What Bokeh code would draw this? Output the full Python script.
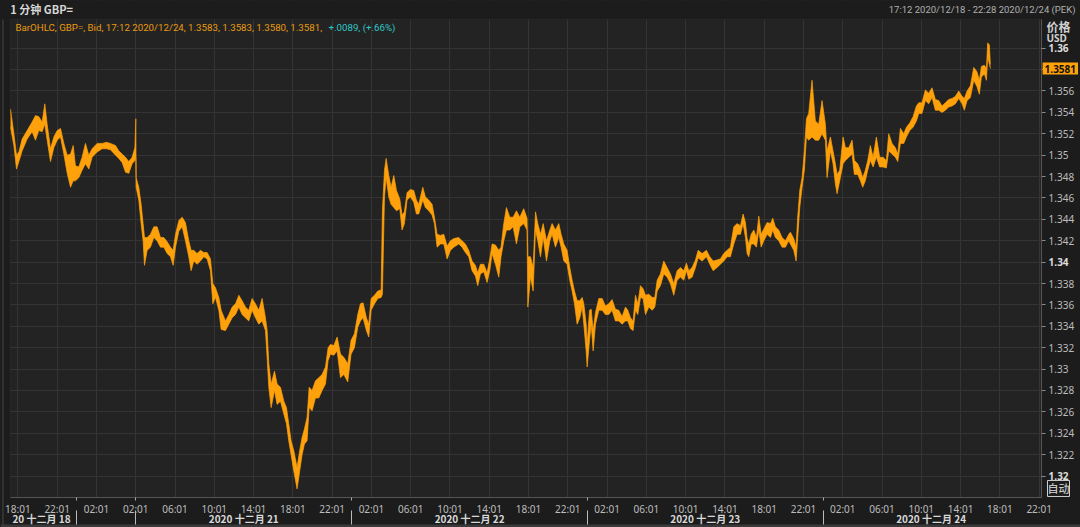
from bokeh.plotting import figure
from bokeh.models import (ColumnDataSource, Range1d, FixedTicker, LinearAxis, Label, BoxAnnotation,
                          GlobalInlineStyleSheet)
from bokeh.embed import file_html
from bokeh.resources import INLINE

# ---- data: trading-hour index (0 = 18:01 Dec 18, weekend compressed), bar low / high ----
hours = [-0.75, -0.41, -0.14, 0.10, 0.43, 0.94, 1.45, 1.79, 2.13, 2.47, 2.74, 2.98, 3.32, 3.66, 4.00, 4.34,
         4.68, 5.02, 5.36, 5.63, 5.86, 6.20, 6.54, 6.88, 7.22, 7.56, 8.07, 8.58, 9.02, 9.43, 9.94, 10.28,
         10.62, 10.96, 11.29, 11.63, 11.91, 12.01, 12.04, 12.31, 12.55, 12.75, 12.89, 13.16, 13.50, 13.84,
         14.18, 14.52, 14.86, 15.20, 15.54, 15.81, 16.05, 16.39, 16.73, 17.06, 17.40, 17.64, 17.91, 18.25,
         18.59, 18.93, 19.27, 19.61, 19.85, 20.12, 20.46, 20.70, 21.14, 21.48, 21.82, 22.16, 22.50, 22.83,
         23.17, 23.51, 23.85, 24.19, 24.53, 24.87, 25.21, 25.38,
         25.55, 25.79, 26.13, 26.40, 26.74, 27.08, 27.35, 27.58, 27.82, 28.09, 28.43, 28.70, 28.94, 29.18,
         29.45, 29.66, 29.96, 30.30, 30.64, 30.98, 31.32, 31.59, 31.83, 32.17, 32.51, 32.85, 33.19, 33.59,
         33.93, 34.27, 34.61, 34.88, 35.15, 35.49, 35.73, 35.97, 36.31, 36.65, 36.99, 37.12, 37.33, 37.50,
         37.77, 38.00, 38.28, 38.55, 38.89, 39.12, 39.36, 39.63, 39.97, 40.31, 40.58, 40.82, 41.23, 41.50,
         41.84, 42.18, 42.42, 42.69, 43.03, 43.37, 43.71, 44.05, 44.39, 44.89, 45.23, 45.57, 45.91, 46.25,
         46.59, 46.83, 47.10, 47.44, 47.78, 48.05, 48.29, 48.63, 48.97, 49.20, 49.48, 49.75, 50.09, 50.43,
         50.77, 51.11, 51.51, 51.85,
         51.93, 52.20, 52.47, 52.71, 52.94, 53.22, 53.49, 53.83, 54.17, 54.40, 54.74, 55.08, 55.32, 55.59,
         55.93, 56.20, 56.44, 56.68, 56.95, 57.22, 57.46, 57.63, 57.87, 57.97, 58.21, 58.38, 58.58, 58.82,
         59.16, 59.50, 59.83, 60.17, 60.51, 60.85, 61.19, 61.53, 61.87, 62.11, 62.38, 62.65, 62.89, 63.13,
         63.40, 63.67, 63.91, 64.25, 64.59, 64.86, 65.10, 65.43, 65.77, 66.11, 66.45, 66.79, 67.13, 67.47,
         67.81, 68.08, 68.32, 68.66, 69.00, 69.27, 69.68, 70.12, 70.46, 70.80, 71.20, 71.54, 71.88, 72.22,
         72.56, 72.90, 73.24, 73.58, 73.85, 74.09, 74.26, 74.43, 74.67, 74.94, 75.21, 75.45, 75.69, 75.96,
         76.30, 76.64, 76.87, 77.14, 77.48, 77.82, 78.16, 78.50,
         78.67, 79.01, 79.25, 79.41, 79.62, 79.86, 80.09, 80.30, 80.53, 80.87, 81.21, 81.55, 81.89, 82.23,
         82.40, 82.74, 83.01, 83.25, 83.42, 83.69, 84.03, 84.27, 84.61, 84.95, 85.18, 85.52, 85.80, 86.03,
         86.30, 86.54, 86.81, 87.09, 87.42, 87.76, 88.10, 88.44, 88.68, 89.02, 89.36, 89.60, 89.87, 90.21,
         90.48, 90.82, 91.16, 91.50, 91.74, 92.07, 92.41, 92.75, 93.09, 93.43, 93.77, 94.11, 94.45, 94.79,
         95.13, 95.47, 95.81, 96.15, 96.38, 96.66, 97.00, 97.34, 97.67, 97.91, 98.12, 98.42, 98.63, 98.76,
         98.93, 99.03]

low = [1.3526, 1.3509, 1.3487, 1.3494, 1.3504, 1.3515, 1.3522, 1.3514, 1.3523, 1.3522, 1.3529, 1.3514, 1.3494, 1.3507, 1.3514, 1.3517,
       1.3501, 1.3483, 1.3470, 1.3476, 1.3476, 1.3479, 1.3486, 1.3492, 1.3487, 1.3498, 1.3503, 1.3506, 1.3506, 1.3505, 1.3500, 1.3497,
       1.3493, 1.3484, 1.3483, 1.3492, 1.3495, 1.3498, 1.3470, 1.3458, 1.3436, 1.3420, 1.3397, 1.3411, 1.3414, 1.3423,
       1.3420, 1.3414, 1.3414, 1.3408, 1.3405, 1.3397, 1.3414, 1.3429, 1.3433, 1.3420, 1.3405, 1.3392, 1.3401, 1.3398,
       1.3401, 1.3405, 1.3403, 1.3392, 1.3361, 1.3367, 1.3355, 1.3337, 1.3336, 1.3342, 1.3348, 1.3351, 1.3358, 1.3351,
       1.3348, 1.3345, 1.3355, 1.3348, 1.3342, 1.3345, 1.3336, 1.3311,
       1.3283, 1.3264, 1.3280, 1.3267, 1.3270, 1.3258, 1.3249, 1.3233, 1.3220, 1.3205, 1.3188, 1.3205, 1.3220, 1.3230,
       1.3233, 1.3264, 1.3261, 1.3273, 1.3273, 1.3280, 1.3286, 1.3308, 1.3314, 1.3313, 1.3317, 1.3292, 1.3295, 1.3288,
       1.3314, 1.3320, 1.3339, 1.3345, 1.3348, 1.3336, 1.3330, 1.3355, 1.3361, 1.3366, 1.3367, 1.3370, 1.3461, 1.3479,
       1.3461, 1.3454, 1.3451, 1.3448, 1.3450, 1.3430, 1.3436, 1.3458, 1.3461, 1.3456, 1.3445, 1.3445, 1.3458, 1.3451,
       1.3448, 1.3444, 1.3436, 1.3414, 1.3417, 1.3417, 1.3403, 1.3411, 1.3414, 1.3417, 1.3414, 1.3409, 1.3405, 1.3392,
       1.3387, 1.3378, 1.3389, 1.3391, 1.3381, 1.3392, 1.3408, 1.3398, 1.3386, 1.3405, 1.3420, 1.3430, 1.3430, 1.3433,
       1.3417, 1.3433, 1.3436, 1.3430,
       1.3358, 1.3386, 1.3373, 1.3430, 1.3420, 1.3405, 1.3423, 1.3401, 1.3420, 1.3426, 1.3414, 1.3423, 1.3414, 1.3401,
       1.3398, 1.3383, 1.3373, 1.3361, 1.3342, 1.3348, 1.3358, 1.3342, 1.3317, 1.3302, 1.3327, 1.3342, 1.3317, 1.3342,
       1.3355, 1.3355, 1.3351, 1.3351, 1.3355, 1.3345, 1.3345, 1.3342, 1.3345, 1.3345, 1.3338, 1.3336, 1.3355, 1.3351,
       1.3367, 1.3366, 1.3351, 1.3358, 1.3355, 1.3358, 1.3373, 1.3378, 1.3389, 1.3386, 1.3380, 1.3369, 1.3383, 1.3386,
       1.3383, 1.3392, 1.3384, 1.3386, 1.3395, 1.3404, 1.3401, 1.3405, 1.3398, 1.3392, 1.3395, 1.3398, 1.3401, 1.3405,
       1.3405, 1.3417, 1.3426, 1.3426, 1.3436, 1.3423, 1.3408, 1.3405, 1.3417, 1.3417, 1.3414, 1.3430, 1.3414, 1.3420,
       1.3426, 1.3423, 1.3430, 1.3423, 1.3420, 1.3414, 1.3414, 1.3420,
       1.3417, 1.3411, 1.3401, 1.3423, 1.3451, 1.3470, 1.3486, 1.3517, 1.3514, 1.3517, 1.3514, 1.3514, 1.3520, 1.3514,
       1.3479, 1.3504, 1.3492, 1.3473, 1.3464, 1.3476, 1.3492, 1.3495, 1.3498, 1.3501, 1.3482, 1.3482, 1.3476, 1.3470,
       1.3476, 1.3486, 1.3495, 1.3489, 1.3498, 1.3489, 1.3489, 1.3488, 1.3504, 1.3501, 1.3498, 1.3494, 1.3511, 1.3511,
       1.3517, 1.3523, 1.3526, 1.3532, 1.3539, 1.3539, 1.3551, 1.3548, 1.3554, 1.3542, 1.3542, 1.3540, 1.3542, 1.3545,
       1.3546, 1.3548, 1.3553, 1.3548, 1.3542, 1.3551, 1.3554, 1.3570, 1.3564, 1.3557, 1.3573, 1.3576, 1.3570, 1.3592,
       1.3585, 1.3581]

high = [1.3543, 1.3520, 1.3500, 1.3503, 1.3515, 1.3523, 1.3531, 1.3537, 1.3536, 1.3531, 1.3548, 1.3529, 1.3506, 1.3517, 1.3523, 1.3525,
        1.3511, 1.3500, 1.3501, 1.3509, 1.3490, 1.3489, 1.3498, 1.3511, 1.3500, 1.3506, 1.3511, 1.3511, 1.3512, 1.3511, 1.3509, 1.3504,
        1.3501, 1.3498, 1.3494, 1.3498, 1.3507, 1.3534, 1.3479, 1.3470, 1.3454, 1.3436, 1.3423, 1.3423, 1.3426, 1.3433,
        1.3433, 1.3423, 1.3423, 1.3419, 1.3414, 1.3411, 1.3426, 1.3439, 1.3442, 1.3437, 1.3420, 1.3411, 1.3411, 1.3408,
        1.3411, 1.3409, 1.3409, 1.3403, 1.3380, 1.3376, 1.3367, 1.3355, 1.3345, 1.3351, 1.3358, 1.3361, 1.3369, 1.3364,
        1.3358, 1.3355, 1.3366, 1.3361, 1.3355, 1.3366, 1.3348, 1.3336,
        1.3305, 1.3286, 1.3298, 1.3286, 1.3283, 1.3270, 1.3264, 1.3249, 1.3233, 1.3224, 1.3208, 1.3224, 1.3236, 1.3244,
        1.3255, 1.3283, 1.3280, 1.3289, 1.3292, 1.3295, 1.3302, 1.3320, 1.3323, 1.3322, 1.3330, 1.3314, 1.3311, 1.3305,
        1.3327, 1.3333, 1.3351, 1.3361, 1.3362, 1.3348, 1.3342, 1.3366, 1.3369, 1.3373, 1.3374, 1.3448, 1.3486, 1.3497,
        1.3481, 1.3470, 1.3481, 1.3467, 1.3459, 1.3444, 1.3447, 1.3465, 1.3468, 1.3467, 1.3458, 1.3454, 1.3470, 1.3461,
        1.3458, 1.3454, 1.3442, 1.3426, 1.3425, 1.3426, 1.3415, 1.3420, 1.3422, 1.3423, 1.3420, 1.3417, 1.3411, 1.3401,
        1.3397, 1.3390, 1.3398, 1.3398, 1.3390, 1.3403, 1.3417, 1.3416, 1.3411, 1.3414, 1.3436, 1.3451, 1.3442, 1.3442,
        1.3448, 1.3442, 1.3450, 1.3441,
        1.3405, 1.3405, 1.3395, 1.3447, 1.3436, 1.3426, 1.3436, 1.3420, 1.3430, 1.3436, 1.3430, 1.3436, 1.3426, 1.3417,
        1.3411, 1.3395, 1.3383, 1.3373, 1.3364, 1.3364, 1.3367, 1.3361, 1.3342, 1.3323, 1.3355, 1.3356, 1.3336, 1.3353,
        1.3366, 1.3366, 1.3359, 1.3361, 1.3365, 1.3356, 1.3355, 1.3349, 1.3358, 1.3355, 1.3348, 1.3345, 1.3369, 1.3361,
        1.3378, 1.3375, 1.3369, 1.3370, 1.3367, 1.3367, 1.3383, 1.3389, 1.3401, 1.3395, 1.3389, 1.3380, 1.3392, 1.3395,
        1.3392, 1.3399, 1.3392, 1.3395, 1.3402, 1.3411, 1.3408, 1.3411, 1.3405, 1.3401, 1.3402, 1.3403, 1.3408, 1.3411,
        1.3414, 1.3433, 1.3436, 1.3434, 1.3445, 1.3437, 1.3422, 1.3417, 1.3426, 1.3430, 1.3423, 1.3443, 1.3426, 1.3431,
        1.3437, 1.3436, 1.3441, 1.3433, 1.3430, 1.3423, 1.3420, 1.3426,
        1.3428, 1.3422, 1.3414, 1.3442, 1.3467, 1.3479, 1.3504, 1.3534, 1.3539, 1.3570, 1.3532, 1.3529, 1.3551, 1.3529,
        1.3504, 1.3517, 1.3504, 1.3492, 1.3482, 1.3486, 1.3517, 1.3507, 1.3507, 1.3514, 1.3495, 1.3492, 1.3486, 1.3479,
        1.3486, 1.3495, 1.3509, 1.3498, 1.3517, 1.3498, 1.3498, 1.3495, 1.3520, 1.3511, 1.3507, 1.3501, 1.3525, 1.3520,
        1.3526, 1.3530, 1.3536, 1.3546, 1.3549, 1.3549, 1.3561, 1.3558, 1.3563, 1.3552, 1.3551, 1.3546, 1.3549, 1.3552,
        1.3553, 1.3555, 1.3560, 1.3555, 1.3553, 1.3560, 1.3565, 1.3582, 1.3578, 1.3570, 1.3583, 1.3584, 1.3581, 1.3605,
        1.3603, 1.3585]

time_tick_pos = [0, 4, 8, 12, 16, 20, 24, 28, 32, 36, 40, 44, 48, 52, 56, 60, 64, 68, 72, 76, 80, 84, 88, 92, 96, 100, 104]
time_tick_labels = ["18:01", "22:01", "02:01", "02:01", "06:01", "10:01", "14:01", "18:01", "22:01",
                    "02:01", "06:01", "10:01", "14:01", "18:01", "22:01",
                    "02:01", "06:01", "10:01", "14:01", "18:01", "22:01",
                    "02:01", "06:01", "10:01", "14:01", "18:01", "22:01"]
day_bounds = [6, 12, 34, 58, 82]
day_centers = [2.4, 23, 46, 70, 93]
day_labels = ["20 十二月 18", "2020 十二月 21", "2020 十二月 22", "2020 十二月 23", "2020 十二月 24"]

# price ticks every 0.002; the round ones are printed bold
y_ticks = [1.32, 1.322, 1.324, 1.326, 1.328, 1.33, 1.332, 1.334, 1.336, 1.338, 1.34,
           1.342, 1.344, 1.346, 1.348, 1.35, 1.352, 1.354, 1.356, 1.358, 1.36]
y_minor_ticks = [1.322, 1.324, 1.326, 1.328, 1.33, 1.332, 1.334, 1.336, 1.338,
                 1.342, 1.344, 1.346, 1.348, 1.35, 1.352, 1.354, 1.356, 1.358]
y_minor_labels = ["1.322", "1.324", "1.326", "1.328", "1.33", "1.332", "1.334", "1.336", "1.338",
                  "1.342", "1.344", "1.346", "1.348", "1.35", "1.352", "1.354", "1.356", ""]
y_bold_ticks = [1.32, 1.34, 1.36]
y_bold_labels = ["1.32", "1.34", "1.36"]

last_price = 1.3581
header_left = "1 分钟 GBP="
header_right = "17:12 2020/12/18 - 22:28 2020/12/24 (PEK)"
legend_main = "BarOHLC, GBP=, Bid, 17:12 2020/12/24, 1.3583, 1.3583, 1.3580, 1.3581,"
legend_change = "+.0089, (+.66%)"

# ---- styling ----
ORANGE = "#FFA10A"
BG = "#232323"
BORDER = "#1c1c1c"
GRID = "#343434"
TXT = "#bdbdbd"
FONT = "Noto Sans"
NARROW = "Roboto"
CJK = "Noto Sans CJK SC"

# whole canvas is the frame; the chart area is [X0, X1] x [Y0, Y1]
XL, XR = -1.772, 108.21          # canvas edges in hour units
YB, YT = 1.31519, 1.36446        # canvas edges in price units
X0, X1 = -0.77, 104.25           # chart area
Y0, Y1 = 1.31799, 1.36268
Y_DATE = 1.31678                 # top of the date row

p = figure(width=1080, height=527, x_range=Range1d(XL, XR), y_range=Range1d(YB, YT),
           output_backend="svg", toolbar_location=None, y_axis_location=None, x_axis_location=None,
           min_border=0, min_border_left=0, min_border_right=0, min_border_top=0, min_border_bottom=0,
           background_fill_color=BG, border_fill_color=BORDER, outline_line_color=None)
p.stylesheets = [GlobalInlineStyleSheet(css="html, body { background-color: #1c1c1c; }")]

p.xgrid.ticker = FixedTicker(ticks=time_tick_pos)
p.ygrid.ticker = FixedTicker(ticks=y_ticks)
p.xgrid.grid_line_color = GRID
p.ygrid.grid_line_color = GRID

# mask everything outside the chart area with the border colour
for kw in (dict(bottom=Y1), dict(top=Y0), dict(right=X0), dict(left=X1)):
    p.add_layout(BoxAnnotation(fill_color=BORDER, fill_alpha=1.0, line_color=None, level="underlay", **kw))
p.add_layout(BoxAnnotation(left=X0, right=X1, bottom=Y0, top=Y1, fill_color=None, fill_alpha=0,
                           line_color="#3a3a3a", line_width=1, level="underlay"))
# outer window edge on the left and status strip at the bottom
p.add_layout(BoxAnnotation(left=-1.57, right=-1.47, bottom=YB, top=Y1, fill_color="#4a4a4a",
                           fill_alpha=1.0, line_color=None, level="underlay"))
p.add_layout(BoxAnnotation(top=1.31547, fill_color="#3a3a3a", fill_alpha=1.0, line_color=None,
                           level="underlay"))

def price_axis(ticks, labels, style):
    ax = LinearAxis(ticker=FixedTicker(ticks=ticks), fixed_location=X1, bounds=(Y0, Y1),
                    major_label_overrides=dict(zip(ticks, labels)))
    ax.axis_line_color = "#555555"
    ax.major_tick_line_color = "#8a8a8a"
    ax.major_tick_out = 4
    ax.major_tick_in = 0
    ax.minor_tick_line_color = None
    ax.minor_tick_out = 0
    ax.minor_tick_in = 0
    ax.major_label_standoff = 3
    ax.major_label_text_color = TXT if style == "normal" else "#dcdcdc"
    ax.major_label_text_font = FONT
    ax.major_label_text_font_style = style
    ax.major_label_text_font_size = "10px"
    p.add_layout(ax, "right")

price_axis(y_minor_ticks, y_minor_labels, "normal")
price_axis(y_bold_ticks, y_bold_labels, "bold")

# time axis at the chart's bottom edge
xa = LinearAxis(ticker=FixedTicker(ticks=time_tick_pos, minor_ticks=day_bounds), fixed_location=Y0,
                bounds=(X0, X1), major_label_overrides=dict(zip(time_tick_pos, time_tick_labels)))
xa.axis_line_color = "#555555"
xa.major_tick_line_color = None
xa.major_tick_out = 0
xa.major_tick_in = 0
xa.minor_tick_line_color = "#aaaaaa"
xa.minor_tick_out = 3
xa.minor_tick_in = 0
xa.major_label_standoff = 1
xa.major_label_text_color = TXT
xa.major_label_text_font = FONT
xa.major_label_text_font_size = "10px"
p.add_layout(xa, "below")

# date row
da = LinearAxis(ticker=FixedTicker(ticks=day_centers, minor_ticks=day_bounds), fixed_location=Y_DATE,
                bounds=(X0, X1), major_label_overrides=dict(zip(day_centers, day_labels)))
da.axis_line_color = None
da.major_tick_line_color = None
da.major_tick_out = 0
da.major_tick_in = 0
da.minor_tick_line_color = "#bbbbbb"
da.minor_tick_in = 0
da.minor_tick_out = 14
da.major_label_standoff = -13
da.major_label_text_color = "#d8d8d8"
da.major_label_text_font = CJK
da.major_label_text_font_style = "bold"
da.major_label_text_font_size = "10px"
p.add_layout(da, "below")

# price bars (low-high band of the 1-minute OHLC bars)
src = ColumnDataSource(dict(h=hours, lo=low, hi=high))
p.varea(x="h", y1="lo", y2="hi", source=src, fill_color=ORANGE, fill_alpha=1.0)
p.line(x="h", y="hi", source=src, line_color=ORANGE, line_width=0.7)
p.line(x="h", y="lo", source=src, line_color=ORANGE, line_width=0.7)

def lab(x, y, text, **kw):
    p.add_layout(Label(x=x, y=y, text=text, **kw))

lab(X0, 1.36362, header_left, text_font=CJK, text_font_size="11px", text_font_style="bold",
    text_color="#d6d6d6", text_baseline="middle")
lab(107.70, 1.36362, header_right, text_font=NARROW, text_font_size="9.5px", text_color="#b0b0b0",
    text_baseline="middle", text_align="right")
lab(-0.245, 1.36194, legend_main, text_font=NARROW, text_font_size="9.7px", text_color="#e89a10",
    text_baseline="middle")
lab(31.63, 1.36194, legend_change, text_font=NARROW, text_font_size="9.7px", text_color="#2fc6c6",
    text_baseline="middle")
lab(104.74, 1.36203, "价格", text_font=CJK, text_font_size="12px", text_font_style="bold",
    text_color="#d0d0d0", text_baseline="middle")
lab(104.74, 1.36091, "USD", text_font=FONT, text_font_size="10px", text_font_style="bold",
    text_color="#d0d0d0", text_baseline="middle")
lab(X1, last_price, "1.3581", x_offset=1, text_font=FONT, text_font_size="10px", text_font_style="bold",
    text_color="#111111", text_baseline="middle", background_fill_color=ORANGE, padding=2)
lab(104.85, 1.31809, "自动", text_font=CJK, text_font_size="11px", text_color="#e0e0e0",
    text_baseline="bottom", border_line_color="#cfcfcf", padding=0)

open("out.html", "w").write(file_html(p, INLINE))
